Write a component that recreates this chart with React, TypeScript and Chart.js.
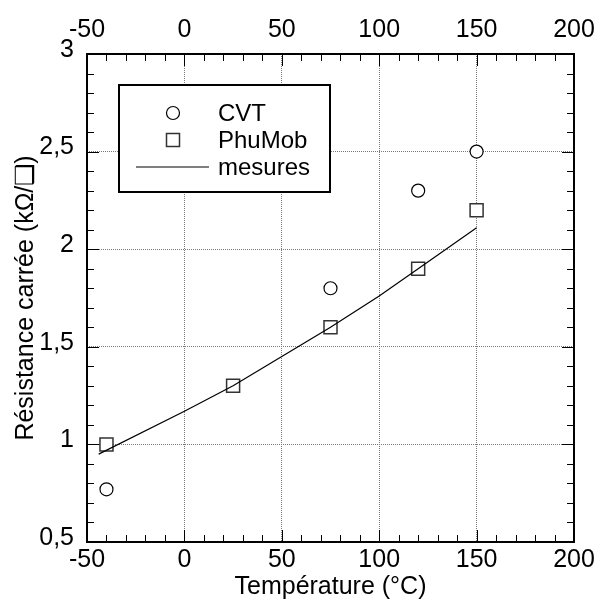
import React, { useEffect, useRef } from "react";
import { Chart, registerables } from "chart.js";

Chart.register(...registerables);

const cvtT = [-40, 75, 120, 150];
const cvtR = [0.77, 1.8, 2.3, 2.5];
const phuT = [-40, 25, 75, 120, 150];
const phuR = [1.0, 1.3, 1.6, 1.9, 2.2];
const mesT = [-44, 0, 25, 50, 75, 100, 120, 135, 150];
const mesR = [0.95, 1.17, 1.3, 1.45, 1.6, 1.76, 1.9, 2.005, 2.11];
const seriesNames = ["CVT", "PhuMob", "mesures"];
const xTitle = "Température (°C)";
const yTitle = "Résistance carrée (kΩ/❑)";

const FONT = "'Liberation Sans', Arial, Helvetica, sans-serif";

const frame = {
  id: "frame",
  afterDraw(chart: any) {
    const { ctx, chartArea: a, scales } = chart;
    const xs = scales.x;
    const ys = scales.y;
    ctx.save();
    ctx.strokeStyle = "#000";
    ctx.lineWidth = 1;
    for (let v = -50; v <= 200; v += 10) {
      const px = Math.round(xs.getPixelForValue(v)) + 0.5;
      const len = v % 50 === 0 ? 12 : 7;
      ctx.beginPath();
      ctx.moveTo(px, a.bottom);
      ctx.lineTo(px, a.bottom - len);
      ctx.moveTo(px, a.top);
      ctx.lineTo(px, a.top + len);
      ctx.stroke();
    }
    for (let i = 5; i <= 30; i++) {
      const v = i / 10;
      const py = Math.round(ys.getPixelForValue(v)) + 0.5;
      const len = i % 5 === 0 ? 12 : 7;
      ctx.beginPath();
      ctx.moveTo(a.left, py);
      ctx.lineTo(a.left + len, py);
      ctx.moveTo(a.right, py);
      ctx.lineTo(a.right - len, py);
      ctx.stroke();
    }
    ctx.lineWidth = 2;
    ctx.strokeRect(a.left, a.top, a.right - a.left, a.bottom - a.top);

    // legend
    const lx = 119, ly = 85, lw = 211, lh = 107;
    ctx.fillStyle = "#fff";
    ctx.fillRect(lx, ly, lw, lh);
    ctx.lineWidth = 2;
    ctx.strokeStyle = "#000";
    ctx.strokeRect(lx, ly, lw, lh);
    ctx.font = `24px ${FONT}`;
    ctx.fillStyle = "#000";
    ctx.textBaseline = "middle";
    ctx.textAlign = "left";
    const rows = [113, 140, 167];
    ctx.lineWidth = 1.2;
    ctx.beginPath();
    ctx.arc(173, rows[0], 6.5, 0, Math.PI * 2);
    ctx.stroke();
    ctx.strokeStyle = "#333";
    ctx.lineWidth = 1.5;
    ctx.strokeRect(166.5, rows[1] - 6.5, 13, 13);
    ctx.strokeStyle = "#000";
    ctx.lineWidth = 1.2;
    ctx.beginPath();
    ctx.moveTo(136, rows[2]);
    ctx.lineTo(209, rows[2]);
    ctx.stroke();
    seriesNames.forEach((n, i) => ctx.fillText(n, 218, rows[i] + 1));
    ctx.restore();
  },
};

const zeroPad = (s: any) => {
  s.paddingLeft = 0;
  s.paddingRight = 0;
  s.paddingTop = 0;
  s.paddingBottom = 0;
};

export default function App() {
  const ref = useRef<HTMLCanvasElement>(null);
  useEffect(() => {
    document.body.style.margin = "0";
    const gridCfg = {
      color: "#7a7a7a",
      lineWidth: 1,
      drawTicks: false,
    };
    const tickFont = { family: FONT, size: 25 };
    const chart = new Chart(ref.current!, {
      type: "scatter",
      data: {
        datasets: [
          {
            label: seriesNames[2],
            type: "line",
            data: mesT.map((t, i) => ({ x: t, y: mesR[i] })),
            borderColor: "#000",
            borderWidth: 1.2,
            pointRadius: 0,
            fill: false,
            tension: 0,
          },
          {
            label: seriesNames[0],
            data: cvtT.map((t, i) => ({ x: t, y: cvtR[i] })),
            pointStyle: "circle",
            pointRadius: 6.5,
            borderColor: "#000",
            borderWidth: 1.2,
            backgroundColor: "#fff",
          },
          {
            label: seriesNames[1],
            data: phuT.map((t, i) => ({ x: t, y: phuR[i] })),
            pointStyle: "rect",
            pointRadius: 9.2,
            borderColor: "#333",
            borderWidth: 1.5,
            backgroundColor: "#fff",
          },
        ],
      },
      options: {
        responsive: false,
        animation: false,
        layout: { padding: { left: 0, right: 23, top: 0, bottom: 0 } },
        plugins: { legend: { display: false }, tooltip: { enabled: false } },
        scales: {
          x: {
            type: "linear",
            position: "bottom",
            min: -50,
            max: 200,
            ticks: { stepSize: 50, padding: 3, color: "#000", font: tickFont },
            grid: gridCfg,
            border: { display: false, dash: [1, 1] },
            title: {
              display: true,
              text: xTitle,
              color: "#000",
              font: { family: FONT, size: 25 },
              padding: { top: 0, bottom: 1 },
            },
            afterFit: (s: any) => {
              s.height = 61;
              zeroPad(s);
            },
          },
          x2: {
            type: "linear",
            position: "top",
            min: -50,
            max: 200,
            ticks: { stepSize: 50, padding: 1, color: "#000", font: tickFont },
            grid: { display: false },
            border: { display: false },
            afterFit: (s: any) => {
              s.height = 54;
              zeroPad(s);
            },
          },
          y: {
            type: "linear",
            min: 0.5,
            max: 3,
            ticks: {
              stepSize: 0.5,
              padding: 13,
              labelOffset: -4,
              color: "#000",
              font: tickFont,
              callback: (v: any) => String(v).replace(".", ","),
            },
            grid: gridCfg,
            border: { display: false, dash: [1, 1] },
            title: {
              display: true,
              text: yTitle,
              color: "#000",
              font: { family: FONT, size: 25 },
              padding: { top: 11, bottom: 0 },
            },
            afterFit: (s: any) => {
              s.width = 87;
              zeroPad(s);
            },
          },
        },
      },
      plugins: [frame],
    } as any);
    return () => chart.destroy();
  }, []);
  return <canvas ref={ref} width={597} height={603} />;
}
